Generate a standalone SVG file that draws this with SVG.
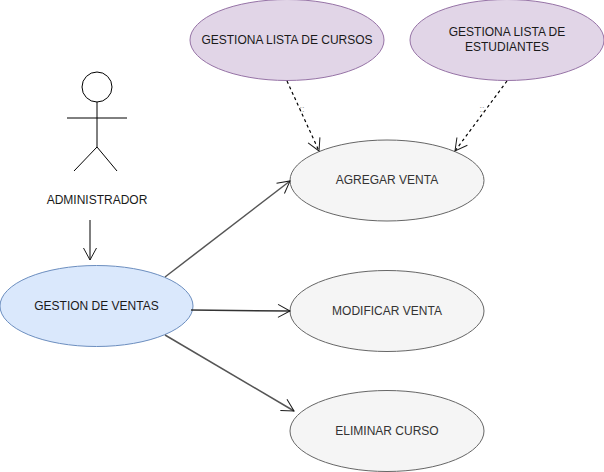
<svg xmlns="http://www.w3.org/2000/svg" width="604" height="472" viewBox="0 0 604 472">
<defs>
<marker id="open" markerUnits="userSpaceOnUse" markerWidth="18" markerHeight="18" refX="14" refY="8" orient="auto" viewBox="0 0 18 16"><path d="M2 1.500 L14 8 L2 14.500" fill="none" stroke="#1a1a1a" stroke-width="1"/></marker>
</defs>
<style>
text{font-family:"Liberation Sans",Arial,sans-serif;font-size:12px;fill:#1a1a1a;text-anchor:middle}
.g{fill:#f5f5f5;stroke:#666}
.g+text{fill:#333}
.p{fill:#e1d5e7;stroke:#9673a6}
.b{fill:#dae8fc;stroke:#6c8ebf}
.c{fill:none;stroke:#555;stroke-width:1.500;marker-end:url(#open)}
.d{fill:none;stroke:#000;stroke-width:1.200;stroke-dasharray:3 3;marker-end:url(#open)}
.a{fill:none;stroke:#000;stroke-width:1}
.t{font-size:9px;fill:#999}
</style>
<g id="actor">
<circle class="a" cx="97" cy="87" r="15"/>
<path class="a" d="M97 102 V147 M67 118 H127 M97 147 L74 171 M97 147 L117 171"/>
<text x="97" y="204">ADMINISTRADOR</text>
</g>
<g id="gestiona-cursos"><ellipse class="p" cx="287" cy="40" rx="97" ry="40.500"/><text x="287" y="44">GESTIONA LISTA DE CURSOS</text></g>
<g id="gestiona-estudiantes"><ellipse class="p" cx="507" cy="40" rx="97" ry="40.500"/><text x="507" y="36">GESTIONA LISTA DE</text><text x="507" y="51">ESTUDIANTES</text></g>
<g id="agregar"><ellipse class="g" cx="387" cy="180.500" rx="97" ry="40.500"/><text x="387" y="184">AGREGAR VENTA</text></g>
<g id="modificar"><ellipse class="g" cx="387" cy="311" rx="97" ry="40.500"/><text x="387" y="315">MODIFICAR VENTA</text></g>
<g id="eliminar"><ellipse class="g" cx="387" cy="431" rx="97" ry="40.500"/><text x="387" y="435">ELIMINAR CURSO</text></g>
<g id="gestion"><ellipse class="b" cx="96.500" cy="306" rx="96.500" ry="40.500"/><text x="96.500" y="310">GESTION DE VENTAS</text></g>
<g id="connectors">
<path class="c" d="M165 277 L290 181"/>
<path class="c" style="stroke:#333" d="M191 310 L290 311"/>
<path class="c" d="M165 335 L294 411"/>
<path class="d" d="M287 81 L319 151"/>
<path class="d" d="M507 81 L455 151"/>
<path class="a" style="marker-end:url(#open)" d="M90 220 L90 260"/>
<text class="t" x="302" y="112">::</text>
<text class="t" x="482" y="112">::</text>
</g>
</svg>
